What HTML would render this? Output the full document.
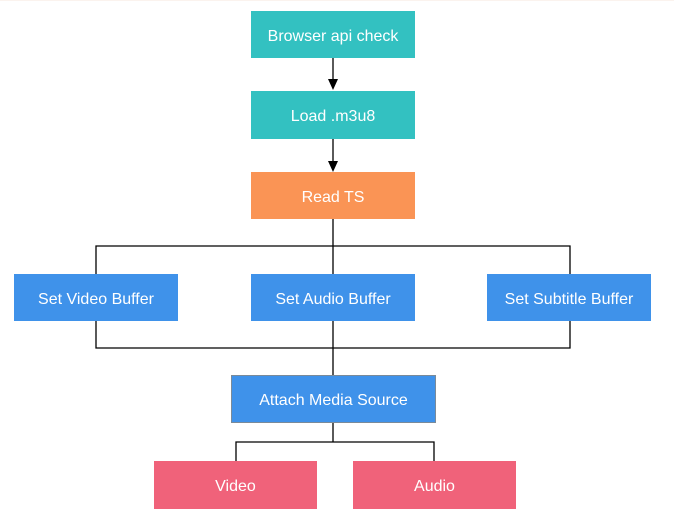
<!DOCTYPE html>
<html><head><style>
body{margin:0;width:674px;height:515px;background:#fff;position:relative;overflow:hidden;font-family:"Liberation Sans",sans-serif}
.b{position:absolute;color:#fff;font-size:16px;display:flex;align-items:center;justify-content:center;box-sizing:border-box;padding-top:4px}
.t{background:#33C1C1}.o{background:#FA9455}.bl{background:#3F92EA}.p{background:#F0627A}
svg{position:absolute;left:0;top:0}
</style></head><body>
<div style="position:absolute;left:0;top:0;width:674px;height:1px;background:#fbf3ee"></div>
<svg width="674" height="515">
<g stroke="#000" stroke-width="1.3" fill="none">
<line x1="333" y1="58" x2="333" y2="80"/>
<line x1="333" y1="139" x2="333" y2="162"/>
<line x1="333" y1="219" x2="333" y2="274"/>
<polyline points="96,274 96,246 570,246 570,274"/>
<polyline points="96,321 96,348 570,348 570,321"/>
<line x1="333" y1="321" x2="333" y2="375"/>
<line x1="333" y1="423" x2="333" y2="442"/>
<polyline points="236,461 236,442 434,442 434,461"/>
</g>
<polygon points="328,79 338,79 333,90" fill="#000"/>
<polygon points="328,161 338,161 333,172" fill="#000"/>
</svg>
<div class="b t" style="left:251px;top:11px;width:164px;height:47px">Browser api check</div>
<div class="b t" style="left:251px;top:91px;width:164px;height:48px">Load .m3u8</div>
<div class="b o" style="left:251px;top:172px;width:164px;height:47px">Read TS</div>
<div class="b bl" style="left:14px;top:274px;width:164px;height:47px">Set Video Buffer</div>
<div class="b bl" style="left:251px;top:274px;width:164px;height:47px">Set Audio Buffer</div>
<div class="b bl" style="left:487px;top:274px;width:164px;height:47px">Set Subtitle Buffer</div>
<div class="b bl" style="left:231px;top:375px;width:205px;height:48px;border:1px solid #7a8a99">Attach Media Source</div>
<div class="b p" style="left:154px;top:461px;width:163px;height:48px">Video</div>
<div class="b p" style="left:353px;top:461px;width:163px;height:48px">Audio</div>
</body></html>
